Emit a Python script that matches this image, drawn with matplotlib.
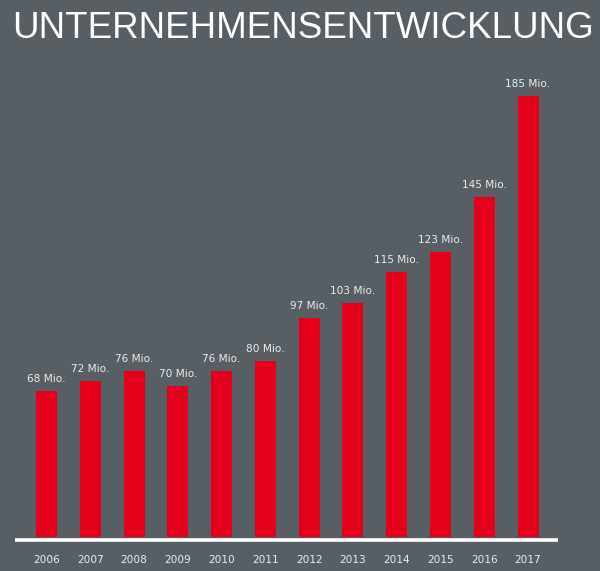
import matplotlib
matplotlib.use("Agg")
import matplotlib.pyplot as plt

years = ["2006", "2007", "2008", "2009", "2010", "2011", "2012", "2013", "2014", "2015", "2016", "2017"]
values = [68, 72, 76, 70, 76, 80, 97, 103, 115, 123, 145, 185]
labels = ["68 Mio.", "72 Mio.", "76 Mio.", "70 Mio.", "76 Mio.", "80 Mio.", "97 Mio.",
          "103 Mio.", "115 Mio.", "123 Mio.", "145 Mio.", "185 Mio."]
title = "UNTERNEHMENSENTWICKLUNG"

BG = "#575e64"
RED = "#e2001a"
TXT = "#ececec"

W, H = 600, 571
fig = plt.figure(figsize=(W / 100, H / 100), dpi=100, facecolor=BG)

# axes in pixel coordinates
left_px, right_px = 15, 558
bottom_px, top_px = 537, 80
ax = fig.add_axes([left_px / W, 1 - bottom_px / H, (right_px - left_px) / W, (bottom_px - top_px) / H])
ax.set_facecolor(BG)

x = list(range(len(years)))
ax.bar(x, values, width=0.48, color=RED, zorder=2)
ax.set_xlim(-0.72, 11.685)
ax.set_ylim(10, 191.35)

for xi, v, lab in zip(x, values, labels):
    ax.annotate(lab, (xi, v), xytext=(0, 5), textcoords="offset points",
                ha="center", va="bottom", color=TXT, fontsize=7.6,
                family="DejaVu Sans", clip_on=False)

ax.set_xticks(x)
ax.set_xticklabels(years, color=TXT, fontsize=7.6, family="DejaVu Sans")
ax.tick_params(axis="x", length=0, pad=13)
ax.set_yticks([])
for s in ax.spines.values():
    s.set_visible(False)

# white baseline
ax.plot([0, 1], [-0.006, -0.006], transform=ax.transAxes, color="white", lw=2.6,
        clip_on=False, zorder=3, solid_capstyle="butt")

fig.text(12 / W, 1 - 38 / H, title, color="white", fontsize=26.5,
         family="Liberation Sans", ha="left", va="baseline")

fig.savefig("out.png", dpi=100, facecolor=BG)
